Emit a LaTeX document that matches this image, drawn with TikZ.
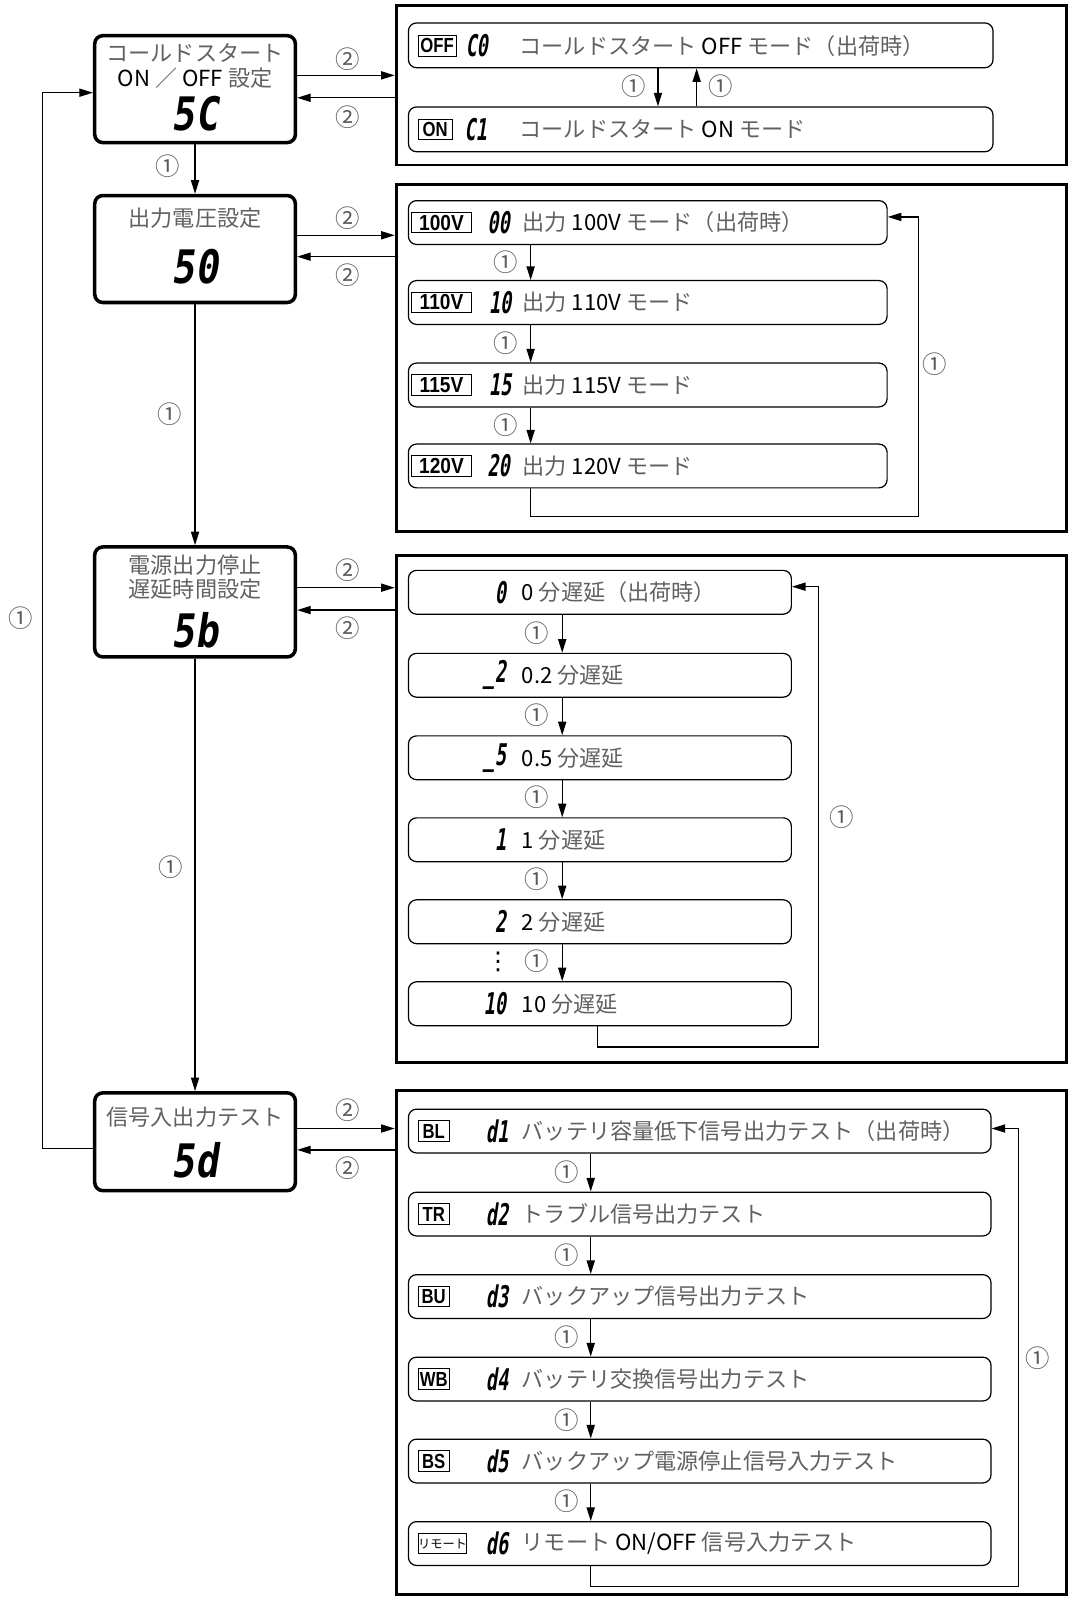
\documentclass[tikz,border=0pt]{standalone}
\usepackage{fontspec}
\setmainfont{Noto Sans CJK JP}
\newfontfamily\segS{DejaVu Sans Mono}[FakeSlant=0.15,FakeStretch=0.62]
\newfontfamily\segL{DejaVu Sans Mono}[FakeSlant=0.15,FakeStretch=0.83]
\newfontfamily\tagf{Liberation Sans}[FakeStretch=0.82]
\newfontfamily\tagw{Liberation Sans}[FakeStretch=0.88]
\newfontfamily\dvs{DejaVu Sans}
\usetikzlibrary{arrows.meta}
\definecolor{jg}{gray}{0.38}
\newcommand\J[1]{{\color{jg}#1}}
\begin{document}
\begin{tikzpicture}[x=0.75pt,y=-0.75pt,
  mainbox/.style={draw, line width=2.6pt, rounded corners=6pt, inner sep=0pt},
  panel/.style={draw, line width=2.2pt, inner sep=0pt},
  rowbox/.style={draw, line width=0.9pt, rounded corners=6pt, inner sep=0pt},
  wh/.style 2 args={minimum width={#1*0.75pt}, minimum height={#2*0.75pt}},
  tag/.style={draw, line width=0.7pt, inner sep=0pt, anchor=west, minimum height=15pt, font=\tagf\bfseries\fontsize{15}{15}\selectfont},
  vtag/.style={tag, font=\tagw\bfseries\fontsize{16}{16}\selectfont},
  segs/.style={inner sep=0pt, font=\segS\bfseries\fontsize{22}{22}\selectfont},
  segl/.style={inner sep=0pt, font=\segL\bfseries\fontsize{34}{34}\selectfont},
  txt/.style={inner sep=0pt, font=\fontsize{16.3}{18}\selectfont},
  lbl/.style={inner sep=0pt, text=black!65, font=\fontsize{18}{18}\selectfont},
  conn/.style={line width=0.9pt, -{Triangle[length=10pt,width=6pt]}},
]
\useasboundingbox (0,0) rectangle (1049,1568);
\fill[white] (0,0) rectangle (1049,1568);

% ---------- left column ----------
\node[mainbox, wh={197}{105}] (SC) at (191.5,87.5) {};
\node[txt] (SCt1) at (191.5,52) {\J{コールドスタート}};
\node[txt] (SCt2) at (191.5,77) {ON \J{／} OFF \J{設定}};
\node[segl] (SCd) at (191.5,112) {5C};

\node[mainbox, wh={197}{105}] (S0) at (191.5,244.5) {};
\node[txt] (S0t) at (191.5,214.5) {\J{出力電圧設定}};
\node[segl] (S0d) at (191.5,262) {50};

\node[mainbox, wh={197}{108}] (Sb) at (191.5,591) {};
\node[txt] (Sbt1) at (191.5,555) {\J{電源出力停止}};
\node[txt] (Sbt2) at (191.5,578) {\J{遅延時間設定}};
\node[segl] (Sbd) at (191.5,619) {5b};

\node[mainbox, wh={197}{96}] (Sd) at (191.5,1121) {};
\node[txt] (Sdt) at (191.5,1097) {\J{信号入出力テスト}};
\node[segl] (Sdd) at (191.5,1139) {5d};

\draw[conn] (SC.south) -- (S0.north);
\draw[conn] (S0.south) -- (Sb.north);
\draw[conn] (Sb.south) -- (Sd.north);
\node[lbl] (l01) at (165,163) {①};
\node[lbl] (l02) at (167,407) {①};
\node[lbl] (l03) at (168,851) {①};

\coordinate (L1) at (42,1128);
\coordinate (L2) at (42,91);
\draw[conn] (Sd.west |- L1) -- (L1) -- (L2) -- (SC.west |- L2);
\node[lbl] (l04) at (20,607) {①};

% ---------- panels ----------
\node[panel, wh={658}{157}] (P1) at (718,83.5) {};
\node[panel, wh={658}{341}] (P2) at (718,351.5) {};
\node[panel, wh={658}{498}] (P3) at (718,794) {};
\node[panel, wh={658}{495}] (P4) at (718,1318.5) {};

% ② connectors
\draw[conn] (SC.east |- 0,74) -- (P1.west |- 0,74);
\draw[conn] (P1.west |- 0,96) -- (SC.east |- 0,96);
\node[lbl] (m1a) at (341,58) {②};
\node[lbl] (m1b) at (341,115) {②};
\draw[conn] (S0.east |- 0,231) -- (P2.west |- 0,231);
\draw[conn] (P2.west |- 0,252) -- (S0.east |- 0,252);
\node[lbl] (m2a) at (341,214) {②};
\node[lbl] (m2b) at (341,270) {②};
\draw[conn] (Sb.east |- 0,577) -- (P3.west |- 0,577);
\draw[conn] (P3.west |- 0,599) -- (Sb.east |- 0,599);
\node[lbl] (m3a) at (341,560) {②};
\node[lbl] (m3b) at (341,617) {②};
\draw[conn] (Sd.east |- 0,1108) -- (P4.west |- 0,1108);
\draw[conn] (P4.west |- 0,1129) -- (Sd.east |- 0,1129);
\node[lbl] (m4a) at (341,1090) {②};
\node[lbl] (m4b) at (341,1147) {②};

% ---------- panel 1 ----------
\node[rowbox, wh={574}{44}] (p1r1) at (688,44.5) {};
\node[rowbox, wh={574}{44}] (p1r2) at (688,127) {};
\node[tag, minimum width=28pt] (p1r1t) at (410,45) {OFF};
\node[segs] (p1r1d) at (468,45) {C0};
\node[txt, anchor=west] (p1r1x) at (510,45) {\J{コールドスタート} OFF \J{モード（出荷時）}};
\node[tag, minimum width=25pt] (p1r2t) at (410,127) {ON};
\node[segs] (p1r2d) at (467,127) {C1};
\node[txt, anchor=west] (p1r2x) at (510,127) {\J{コールドスタート} ON \J{モード}};
\coordinate (p1ax) at (646,0);
\coordinate (p1bx) at (684,0);
\draw[conn] (p1r1.south -| p1ax) -- (p1r2.north -| p1ax);
\draw[conn] (p1r2.north -| p1bx) -- (p1r1.south -| p1bx);
\node[lbl] (p1l1) at (622,85) {①};
\node[lbl] (p1l2) at (708,85) {①};

% ---------- panel 2 ----------
\node[rowbox, wh={470}{43}] (p2r1) at (636,218.5) {};
\node[rowbox, wh={470}{43}] (p2r2) at (636,297) {};
\node[rowbox, wh={470}{43}] (p2r3) at (636,378) {};
\node[rowbox, wh={470}{43}] (p2r4) at (636,457.5) {};
\node[vtag, minimum width=43.5pt] (p2r1t) at (404,218.5) {100V};
\node[vtag, minimum width=43.5pt] (p2r2t) at (404,297) {110V};
\node[vtag, minimum width=43.5pt] (p2r3t) at (404,378) {115V};
\node[vtag, minimum width=43.5pt] (p2r4t) at (404,457.5) {120V};
\node[segs] (p2r1d) at (489.5,218.5) {00};
\node[segs] (p2r2d) at (491,297) {10};
\node[segs] (p2r3d) at (491,378) {15};
\node[segs] (p2r4d) at (489.5,457.5) {20};
\node[txt, anchor=west] (p2r1x) at (513,218.5) {\J{出力} 100V \J{モード（出荷時）}};
\node[txt, anchor=west] (p2r2x) at (513,297) {\J{出力} 110V \J{モード}};
\node[txt, anchor=west] (p2r3x) at (513,378) {\J{出力} 115V \J{モード}};
\node[txt, anchor=west] (p2r4x) at (513,457.5) {\J{出力} 120V \J{モード}};
\coordinate (p2ax) at (521,0);
\draw[conn] (p2r1.south -| p2ax) -- (p2r2.north -| p2ax);
\draw[conn] (p2r2.south -| p2ax) -- (p2r3.north -| p2ax);
\draw[conn] (p2r3.south -| p2ax) -- (p2r4.north -| p2ax);
\node[lbl] (p2l1) at (497,257) {①};
\node[lbl] (p2l2) at (497,337) {①};
\node[lbl] (p2l3) at (497,417) {①};
\coordinate (p2lb) at (902,507);
\coordinate (p2lt) at (902,213);
\draw[conn] (p2r4.south -| p2ax) |- (p2lb) -- (p2lt) -- (p2r1.east |- p2lt);
\node[lbl] (p2l4) at (918,358) {①};

% ---------- panel 3 ----------
\node[rowbox, wh={376}{43}] (p3r1) at (589,581.5) {};
\node[rowbox, wh={376}{43}] (p3r2) at (589,663) {};
\node[rowbox, wh={376}{43}] (p3r3) at (589,744) {};
\node[rowbox, wh={376}{43}] (p3r4) at (589,824.5) {};
\node[rowbox, wh={376}{43}] (p3r5) at (589,905) {};
\node[rowbox, wh={376}{43}] (p3r6) at (589,985.5) {};
\node[segs, anchor=east] (p3r1d) at (497,581.5) {0};
\node[segs, anchor=east] (p3r2d) at (497,663) {\_2};
\node[segs, anchor=east] (p3r3d) at (497,744) {\_5};
\node[segs, anchor=east] (p3r4d) at (497,824.5) {1};
\node[segs, anchor=east] (p3r5d) at (497,905) {2};
\node[segs, anchor=east] (p3r6d) at (497,985.5) {10};
\node[txt, anchor=west] (p3r1x) at (512,581.5) {0 \J{分遅延（出荷時）}};
\node[txt, anchor=west] (p3r2x) at (512,663) {0.2 \J{分遅延}};
\node[txt, anchor=west] (p3r3x) at (512,744) {0.5 \J{分遅延}};
\node[txt, anchor=west] (p3r4x) at (512,824.5) {1 \J{分遅延}};
\node[txt, anchor=west] (p3r5x) at (512,905) {2 \J{分遅延}};
\node[txt, anchor=west] (p3r6x) at (512,985.5) {10 \J{分遅延}};
\coordinate (p3ax) at (552,0);
\draw[conn] (p3r1.south -| p3ax) -- (p3r2.north -| p3ax);
\draw[conn] (p3r2.south -| p3ax) -- (p3r3.north -| p3ax);
\draw[conn] (p3r3.south -| p3ax) -- (p3r4.north -| p3ax);
\draw[conn] (p3r4.south -| p3ax) -- (p3r5.north -| p3ax);
\draw[conn] (p3r5.south -| p3ax) -- (p3r6.north -| p3ax);
\node[lbl] (p3l1) at (527,622) {①};
\node[lbl] (p3l2) at (527,702) {①};
\node[lbl] (p3l3) at (527,783) {①};
\node[lbl] (p3l4) at (527,863) {①};
\node[lbl] (p3l5) at (527,944) {①};
\node[inner sep=0pt, font=\dvs\fontsize{18}{18}\selectfont] (p3dots) at (489,944) {⋮};
\coordinate (p3bx) at (587,0);
\coordinate (p3lb) at (804,1028);
\coordinate (p3lt) at (804,576);
\draw[conn] (p3r6.south -| p3bx) |- (p3lb) -- (p3lt) -- (p3r1.east |- p3lt);
\node[lbl] (p3l6) at (826,802) {①};

% ---------- panel 4 ----------
\node[rowbox, wh={572}{43}] (p4r1) at (687,1110.5) {};
\node[rowbox, wh={572}{43}] (p4r2) at (687,1192) {};
\node[rowbox, wh={572}{43}] (p4r3) at (687,1273) {};
\node[rowbox, wh={572}{43}] (p4r4) at (687,1354) {};
\node[rowbox, wh={572}{43}] (p4r5) at (687,1434.5) {};
\node[rowbox, wh={572}{43}] (p4r6) at (687,1515.5) {};
\node[tag, minimum width=23pt] (p4r1t) at (410,1110.5) {BL};
\node[tag, minimum width=23pt] (p4r2t) at (410,1192) {TR};
\node[tag, minimum width=23pt] (p4r3t) at (410,1273) {BU};
\node[tag, minimum width=23pt] (p4r4t) at (410,1354) {WB};
\node[tag, minimum width=23pt] (p4r5t) at (410,1434.5) {BS};
\node[tag, minimum width=36pt, font=\fontsize{9}{9}\selectfont] (p4r6t) at (410,1515.5) {リモート};
\node[segs] (p4r1d) at (488,1110.5) {d1};
\node[segs] (p4r2d) at (488,1192) {d2};
\node[segs] (p4r3d) at (488,1273) {d3};
\node[segs] (p4r4d) at (488,1354) {d4};
\node[segs] (p4r5d) at (488,1434.5) {d5};
\node[segs] (p4r6d) at (488,1515.5) {d6};
\node[txt, anchor=west] (p4r1x) at (512,1110.5) {\J{バッテリ容量低下信号出力テスト（出荷時）}};
\node[txt, anchor=west] (p4r2x) at (512,1192) {\J{トラブル信号出力テスト}};
\node[txt, anchor=west] (p4r3x) at (512,1273) {\J{バックアップ信号出力テスト}};
\node[txt, anchor=west] (p4r4x) at (512,1354) {\J{バッテリ交換信号出力テスト}};
\node[txt, anchor=west] (p4r5x) at (512,1434.5) {\J{バックアップ電源停止信号入力テスト}};
\node[txt, anchor=west] (p4r6x) at (512,1515.5) {\J{リモート} ON/OFF \J{信号入力テスト}};
\coordinate (p4ax) at (580,0);
\draw[conn] (p4r1.south -| p4ax) -- (p4r2.north -| p4ax);
\draw[conn] (p4r2.south -| p4ax) -- (p4r3.north -| p4ax);
\draw[conn] (p4r3.south -| p4ax) -- (p4r4.north -| p4ax);
\draw[conn] (p4r4.south -| p4ax) -- (p4r5.north -| p4ax);
\draw[conn] (p4r5.south -| p4ax) -- (p4r6.north -| p4ax);
\node[lbl] (p4l1) at (556,1151) {①};
\node[lbl] (p4l2) at (556,1232) {①};
\node[lbl] (p4l3) at (556,1313) {①};
\node[lbl] (p4l4) at (556,1394) {①};
\node[lbl] (p4l5) at (556,1474) {①};
\coordinate (p4lb) at (1000,1558);
\coordinate (p4lt) at (1000,1108);
\draw[conn] (p4r6.south -| p4ax) |- (p4lb) -- (p4lt) -- (p4r1.east |- p4lt);
\node[lbl] (p4l6) at (1019,1334) {①};
\end{tikzpicture}
\end{document}
